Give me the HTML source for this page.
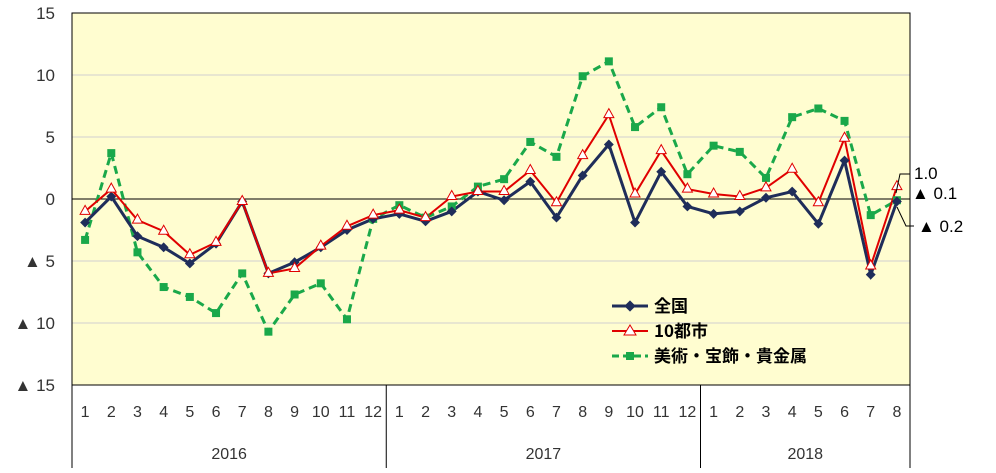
<!DOCTYPE html>
<html><head><meta charset="utf-8"><style>
body{margin:0;background:#fff;font-family:"Liberation Sans","Noto Sans CJK JP",sans-serif;}
svg text{font-family:"Liberation Sans","Noto Sans CJK JP",sans-serif;}
</style></head><body>
<svg id="chart" width="996" height="468" xmlns="http://www.w3.org/2000/svg">
<rect x="72" y="13" width="838" height="372" fill="#fffdd0"/>
<g id="grid"></g><g id="axes"></g><g id="series"></g>
<g font-size="17" font-weight="bold">
<line x1="612" y1="306" x2="648" y2="306" stroke="#1f2d5a" stroke-width="3"/><rect x="626" y="302" width="8" height="8" fill="#1f2d5a" transform="rotate(45 630 306)"/>
<text x="654" y="312" style="font-family:'Noto Sans CJK JP',sans-serif">全国</text>
<line x1="612" y1="331" x2="648" y2="331" stroke="#e00000" stroke-width="2"/><polygon points="630,325 636,335 624,335" fill="#fff" stroke="#e00000"/>
<text x="654" y="337" style="font-family:'Noto Sans CJK JP',sans-serif">10都市</text>
<line x1="612" y1="356" x2="648" y2="356" stroke="#1aa84a" stroke-width="3" stroke-dasharray="7,4"/><rect x="626" y="352" width="8" height="8" fill="#1aa84a"/>
<text x="654" y="362" style="font-family:'Noto Sans CJK JP',sans-serif">美術・宝飾・貴金属</text>
</g>
<g font-size="17">
<polyline points="896,193 900,174 910,174" fill="none" stroke="#000" stroke-width="1"/>
<text x="914" y="179">1.0</text>
<text x="912" y="199">▲ 0.1</text>
<polyline points="897,207 906,226 914,226" fill="none" stroke="#000" stroke-width="1"/>
<text x="918" y="232">▲ 0.2</text>
</g>
</svg>
<script>
const yTicks=[15,10,5,0,-5,-10,-15];
const yLabels=["15","10","5","0","▲ 5","▲ 10","▲ 15"];
const months=["1","2","3","4","5","6","7","8","9","10","11","12","1","2","3","4","5","6","7","8","9","10","11","12","1","2","3","4","5","6","7","8"];
const years=["2016","2017","2018"];
const yearCounts=[12,12,8];
const national=[-1.9,0.2,-3.0,-3.9,-5.2,-3.6,-0.2,-6.0,-5.1,-3.9,-2.5,-1.6,-1.2,-1.8,-1.0,0.6,-0.1,1.4,-1.5,1.9,4.4,-1.9,2.2,-0.6,-1.2,-1.0,0.1,0.6,-2.0,3.1,-6.1,-0.2];
const cities10=[-1.0,0.8,-1.7,-2.6,-4.5,-3.5,-0.2,-6.0,-5.6,-3.8,-2.2,-1.3,-0.9,-1.5,0.2,0.6,0.6,2.3,-0.3,3.5,6.8,0.4,3.9,0.8,0.4,0.2,0.9,2.4,-0.3,4.9,-5.4,1.0];
const artJewelry=[-3.3,3.7,-4.3,-7.1,-7.9,-9.2,-6.0,-10.7,-7.7,-6.8,-9.7,-1.6,-0.5,-1.5,-0.6,1.0,1.6,4.6,3.4,9.9,11.1,5.8,7.4,2.0,4.3,3.8,1.7,6.6,7.3,6.3,-1.3,-0.1];
const NS="http://www.w3.org/2000/svg";
const L=72,R=910,T=13,B=385;
const n=months.length,bw=(R-L)/n;
const x=i=>L+bw*(i+0.5);
const y=v=>T+(15-v)/30*(B-T);
function mk(t,a,p){const e=document.createElementNS(NS,t);for(const k in a)e.setAttribute(k,a[k]);p.appendChild(e);return e;}
const grid=document.getElementById('grid'),axes=document.getElementById('axes'),ser=document.getElementById('series');
yTicks.forEach((v,i)=>{
 if(v!==0&&v!==15&&v!==-15){const g=mk('line',{x1:L,x2:R,y1:y(v),y2:y(v),stroke:'#d0d0d0'},grid);
 
 }
 const t=mk('text',{x:55,y:y(v)+6,'text-anchor':'end','font-size':17,fill:'#333'},axes);t.textContent=yLabels[i];
 
 
});
const z=mk('line',{x1:L,x2:R,y1:y(0),y2:y(0),stroke:'#000','stroke-width':1},axes);


mk('rect',{x:L,y:T,width:R-L,height:B-T,fill:'none',stroke:'#000'},axes);
mk('line',{x1:L,x2:R,y1:B,y2:B,stroke:'#000'},axes);
months.forEach((m,i)=>{const t=mk('text',{x:x(i),y:417,'text-anchor':'middle','font-size':16,fill:'#333'},axes);t.textContent=m;
 
 });
let s=0;
mk('line',{x1:L,x2:L,y1:B,y2:468,stroke:'#000'},axes);
years.forEach((yr,k)=>{const a=s,b=s+yearCounts[k];s=b;
 mk('line',{x1:L+bw*b,x2:L+bw*b,y1:B,y2:468,stroke:'#000'},axes);
 const t=mk('text',{x:L+bw*(a+b)/2,y:459,'text-anchor':'middle','font-size':16,fill:'#333'},axes);t.textContent=yr;
 
 });
function line(d,col,w,dash,name){const p=mk('polyline',{points:d.map((v,i)=>x(i)+','+y(v)).join(' '),fill:'none',stroke:col,'stroke-width':w},ser);
 if(dash)p.setAttribute('stroke-dasharray',dash);
 
 }
line(artJewelry,'#1aa84a',3,'8,5','series-art-jewelry');
line(national,'#1f2d5a',3,null,'series-national');
line(cities10,'#e00000',2,null,'series-10-cities');
artJewelry.forEach((v,i)=>{const r=mk('rect',{x:x(i)-4,y:y(v)-4,width:8,height:8,fill:'#1aa84a'},ser);
 
 });
national.forEach((v,i)=>{const r=mk('rect',{x:x(i)-3.5,y:y(v)-3.5,width:7,height:7,fill:'#1f2d5a',transform:`rotate(45 ${x(i)} ${y(v)})`},ser);
 
 });
cities10.forEach((v,i)=>{const X=x(i),Y=y(v);const p=mk('polygon',{points:`${X},${Y-6} ${X+5},${Y+3} ${X-5},${Y+3}`,fill:'#fff',stroke:'#e00000'},ser);
 
 });
</script>
</body></html>
